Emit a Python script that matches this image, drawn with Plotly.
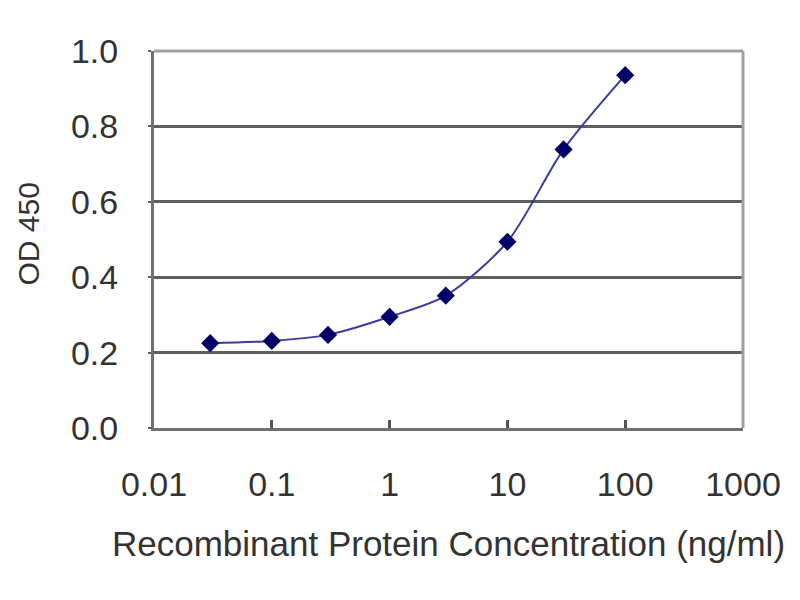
import plotly.graph_objects as go

# данные
concentration = [0.03, 0.1, 0.3, 1, 3, 10, 30, 100]
od450 = [0.225, 0.231, 0.247, 0.295, 0.351, 0.494, 0.739, 0.936]

x_tickvals = [0.01, 0.1, 1, 10, 100, 1000]
x_ticktext = ["0.01", "0.1", "1", "10", "100", "1000"]
y_tickvals = [0.0, 0.2, 0.4, 0.6, 0.8, 1.0]
y_ticktext = ["0.0", "0.2", "0.4", "0.6", "0.8", "1.0"]

font_name = "Liberation Sans"
text_color = "#333333"

fig = go.Figure()

fig.add_trace(go.Scatter(
    x=concentration,
    y=od450,
    mode="lines+markers",
    line=dict(color="#3c3c9c", width=2, shape="spline", smoothing=0.8),
    marker=dict(symbol="diamond", size=14, color="#000066"),
    showlegend=False,
))

# страница сдвинута на 8px (отступ body), поэтому поля подобраны с учётом этого
fig.update_layout(
    width=800,
    height=600,
    margin=dict(l=146, r=65, t=43, b=180),
    paper_bgcolor="white",
    plot_bgcolor="white",
    font=dict(family=font_name, color=text_color, size=30),
)

fig.update_xaxes(
    type="log",
    range=[-2, 3],
    tickvals=x_tickvals,
    ticktext=x_ticktext,
    tickfont=dict(size=34),
    ticks="inside",
    ticklen=8,
    tickwidth=3,
    tickcolor="#555555",
    ticklabelstandoff=24,
    showline=True,
    linecolor="#707070",
    linewidth=3,
    showgrid=False,
    zeroline=False,
    automargin=False,
    title=dict(text="Recombinant Protein Concentration (ng/ml)",
               font=dict(size=35), standoff=30),
)

fig.update_yaxes(
    range=[0, 1],
    tickvals=y_tickvals,
    ticktext=y_ticktext,
    tickfont=dict(size=34),
    ticks="outside",
    ticklen=3,
    tickwidth=2,
    tickcolor="#606060",
    ticklabelstandoff=23,
    showline=True,
    linecolor="#707070",
    linewidth=3,
    showgrid=True,
    gridcolor="#5e5e5e",
    gridwidth=3,
    zeroline=False,
    automargin=False,
)

# подпись оси Y — аннотацией, чтобы поставить её левее
fig.add_annotation(text="OD 450", xref="paper", yref="paper", x=0, y=0.5,
                   xshift=-126, yshift=5, textangle=-90, showarrow=False,
                   xanchor="center", yanchor="middle",
                   font=dict(size=30, color=text_color))

# светлая рамка сверху и справа, как у Excel
fig.add_shape(type="line", xref="paper", yref="paper", x0=0, x1=1, y0=1, y1=1,
              line=dict(color="#a0a0a0", width=3), layer="above")
fig.add_shape(type="line", xref="paper", yref="paper", x0=1, x1=1, y0=0, y1=1,
              line=dict(color="#a0a0a0", width=3), layer="above")

fig.write_html("out.html")
